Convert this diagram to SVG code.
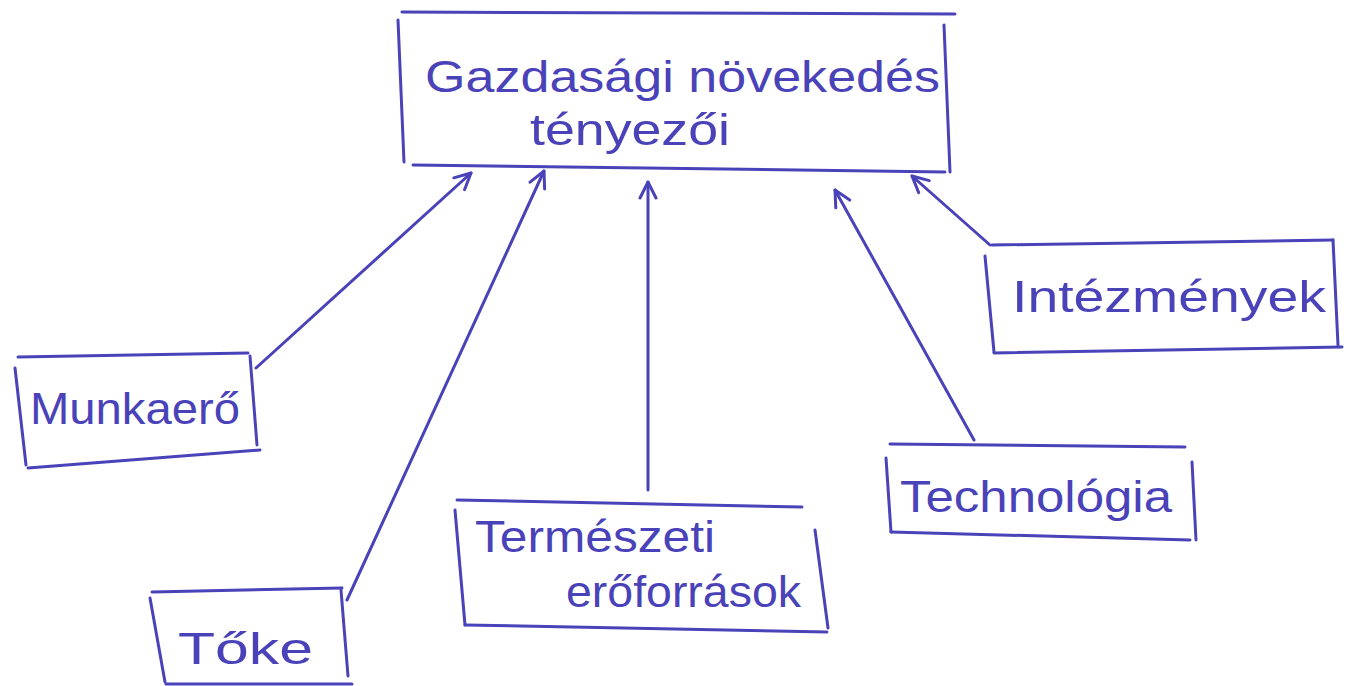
<svg xmlns="http://www.w3.org/2000/svg" width="1347" height="686" viewBox="0 0 1347 686">
<defs>
<style>
.ink{fill:none;stroke:#4a42b8;stroke-width:3;stroke-linecap:round;stroke-linejoin:round}
.lbl{font-family:"Liberation Sans","DejaVu Sans",sans-serif;fill:#4a42b8;font-size:44px}
</style>
<marker id="ah" viewBox="0 0 20 20" refX="18" refY="10" markerWidth="20" markerHeight="20" markerUnits="userSpaceOnUse" orient="auto">
<path d="M2,2 L18,10 L2,18" fill="none" stroke="#4a42b8" stroke-width="3" stroke-linecap="round" stroke-linejoin="round"/>
</marker>
</defs>
<rect width="1347" height="686" fill="#ffffff"/>
<g id="node-main">
<path class="ink" d="M402,12 L955,14"/>
<path class="ink" d="M398,20 L404,162"/>
<path class="ink" d="M413,165 L945,172"/>
<path class="ink" d="M944,25 L950,172"/>
<text class="lbl" x="425" y="92" textLength="515" lengthAdjust="spacingAndGlyphs">Gazdasági növekedés</text>
<text class="lbl" x="530" y="145" textLength="200" lengthAdjust="spacingAndGlyphs">tényezői</text>
</g>
<g id="node-munkaero">
<path class="ink" d="M18,357 L248,353"/>
<path class="ink" d="M15,368 L26,465"/>
<path class="ink" d="M28,468 L260,450"/>
<path class="ink" d="M250,356 L257,445"/>
<text class="lbl" x="30" y="424" textLength="210" lengthAdjust="spacingAndGlyphs">Munkaerő</text>
</g>
<g id="node-toke">
<path class="ink" d="M152,592 L342,588"/>
<path class="ink" d="M150,598 L165,682"/>
<path class="ink" d="M166,684 L352,684"/>
<path class="ink" d="M341,590 L348,676"/>
<text class="lbl" x="178" y="664" textLength="135" lengthAdjust="spacingAndGlyphs">Tőke</text>
</g>
<g id="node-termeszeti">
<path class="ink" d="M457,500 L802,507"/>
<path class="ink" d="M455,510 L465,625"/>
<path class="ink" d="M465,625 L827,632"/>
<path class="ink" d="M815,530 L828,628"/>
<text class="lbl" x="475" y="552" textLength="240" lengthAdjust="spacingAndGlyphs">Természeti</text>
<text class="lbl" x="566" y="607" textLength="235" lengthAdjust="spacingAndGlyphs">erőforrások</text>
</g>
<g id="node-technologia">
<path class="ink" d="M890,444 L1185,447"/>
<path class="ink" d="M886,458 L891,532"/>
<path class="ink" d="M891,532 L1190,540"/>
<path class="ink" d="M1192,462 L1196,540"/>
<text class="lbl" x="900" y="512" textLength="272" lengthAdjust="spacingAndGlyphs">Technológia</text>
</g>
<g id="node-intezmenyek">
<path class="ink" d="M992,245 L1333,240"/>
<path class="ink" d="M985,256 L994,352"/>
<path class="ink" d="M994,353 L1342,347"/>
<path class="ink" d="M1333,240 L1338,345"/>
<text class="lbl" x="1012" y="312" textLength="314" lengthAdjust="spacingAndGlyphs">Intézmények</text>
</g>
<g id="connectors">
<path class="ink" d="M256,368 L471,173" marker-end="url(#ah)"/>
<path class="ink" d="M347,600 L544,171" marker-end="url(#ah)"/>
<path class="ink" d="M648,490 L648,182" marker-end="url(#ah)"/>
<path class="ink" d="M974,440 L835,190" marker-end="url(#ah)"/>
<path class="ink" d="M990,245 L912,176" marker-end="url(#ah)"/>
</g>
</svg>
